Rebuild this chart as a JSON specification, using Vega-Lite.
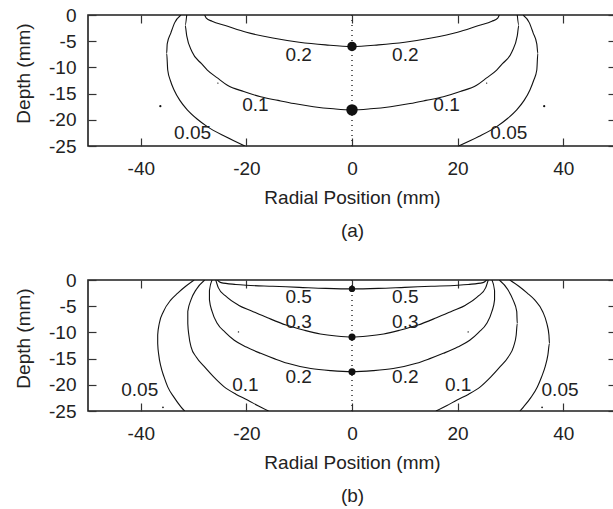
{
  "$schema": "https://vega.github.io/schema/vega-lite/v6.json",
  "autosize": {"type": "pad"},
  "padding": {"left": 13, "top": 5, "right": 0, "bottom": 0},
  "background": "white",
  "bounds": "flush",
  "spacing": 134,
  "config": {
    "font": "Liberation Sans",
    "view": {"stroke": "#1e1e1e", "strokeWidth": 1.6},
    "axis": {
      "domain": false,
      "grid": false,
      "tickSize": -8,
      "tickColor": "#333",
      "tickWidth": 1.2,
      "labelFont": "Liberation Sans",
      "labelFontSize": 19,
      "labelColor": "#222",
      "labelExpr": "replace(datum.label, '\u2212', '-')",
      "titleFont": "Liberation Sans",
      "titleFontSize": 19,
      "titleFontWeight": "normal",
      "titleColor": "#222"
    },
    "text": {"font": "Liberation Sans", "fontSize": 19, "color": "#222"}
  },
  "datasets": {
    "linesA": [
      {"c":"a02","i":0,"x":-27.9,"y":0},{"c":"a02","i":1,"x":-27.6,"y":-0.6},{"c":"a02","i":2,"x":-26.5,"y":-1.2},{"c":"a02","i":3,"x":-24,"y":-2.0},{"c":"a02","i":4,"x":-20,"y":-3.3},{"c":"a02","i":5,"x":-15,"y":-4.4},{"c":"a02","i":6,"x":-10,"y":-5.2},{"c":"a02","i":7,"x":-5,"y":-5.7},{"c":"a02","i":8,"x":0,"y":-6.0},{"c":"a02","i":9,"x":5,"y":-5.7},{"c":"a02","i":10,"x":10,"y":-5.2},{"c":"a02","i":11,"x":15,"y":-4.4},{"c":"a02","i":12,"x":20,"y":-3.3},{"c":"a02","i":13,"x":24,"y":-2.0},{"c":"a02","i":14,"x":26.5,"y":-1.2},{"c":"a02","i":15,"x":27.6,"y":-0.6},{"c":"a02","i":16,"x":27.9,"y":0},
      {"c":"a01","i":0,"x":-31.3,"y":0},{"c":"a01","i":1,"x":-31.6,"y":-2},{"c":"a01","i":2,"x":-31.3,"y":-4},{"c":"a01","i":3,"x":-30.3,"y":-7},{"c":"a01","i":4,"x":-28.5,"y":-9.3},{"c":"a01","i":5,"x":-27.4,"y":-10.5},{"c":"a01","i":6,"x":-25.5,"y":-12},{"c":"a01","i":7,"x":-23.6,"y":-13.4},{"c":"a01","i":8,"x":-20.5,"y":-14.6},{"c":"a01","i":9,"x":-17.3,"y":-15.6},{"c":"a01","i":10,"x":-14,"y":-16.3},{"c":"a01","i":11,"x":-11,"y":-16.9},{"c":"a01","i":12,"x":-7.3,"y":-17.5},{"c":"a01","i":13,"x":-3.5,"y":-17.9},{"c":"a01","i":14,"x":0,"y":-18.1},{"c":"a01","i":15,"x":3.5,"y":-17.9},{"c":"a01","i":16,"x":7.3,"y":-17.5},{"c":"a01","i":17,"x":11,"y":-16.9},{"c":"a01","i":18,"x":14,"y":-16.3},{"c":"a01","i":19,"x":17.3,"y":-15.6},{"c":"a01","i":20,"x":20.5,"y":-14.6},{"c":"a01","i":21,"x":23.6,"y":-13.4},{"c":"a01","i":22,"x":25.5,"y":-12},{"c":"a01","i":23,"x":27.4,"y":-10.5},{"c":"a01","i":24,"x":28.5,"y":-9.3},{"c":"a01","i":25,"x":30.3,"y":-7},{"c":"a01","i":26,"x":31.3,"y":-4},{"c":"a01","i":27,"x":31.6,"y":-2},{"c":"a01","i":28,"x":31.3,"y":0},
      {"c":"a005L","i":0,"x":-32.4,"y":0},{"c":"a005L","i":1,"x":-33.6,"y":-1.5},{"c":"a005L","i":2,"x":-34.3,"y":-3.4},{"c":"a005L","i":3,"x":-35.0,"y":-5.5},{"c":"a005L","i":4,"x":-35.1,"y":-7.3},{"c":"a005L","i":5,"x":-34.9,"y":-10.5},{"c":"a005L","i":6,"x":-34.4,"y":-12.5},{"c":"a005L","i":7,"x":-33.7,"y":-14.3},{"c":"a005L","i":8,"x":-32.6,"y":-16.3},{"c":"a005L","i":9,"x":-31.2,"y":-18.1},{"c":"a005L","i":10,"x":-29.4,"y":-19.8},{"c":"a005L","i":11,"x":-27.4,"y":-21.3},{"c":"a005L","i":12,"x":-24,"y":-23.2},{"c":"a005L","i":13,"x":-20.3,"y":-25},
      {"c":"a005R","i":0,"x":32.4,"y":0},{"c":"a005R","i":1,"x":33.6,"y":-1.5},{"c":"a005R","i":2,"x":34.3,"y":-3.4},{"c":"a005R","i":3,"x":35.0,"y":-5.5},{"c":"a005R","i":4,"x":35.2,"y":-7.3},{"c":"a005R","i":5,"x":35.0,"y":-10.5},{"c":"a005R","i":6,"x":34.4,"y":-12.5},{"c":"a005R","i":7,"x":33.7,"y":-14.3},{"c":"a005R","i":8,"x":32.6,"y":-16.3},{"c":"a005R","i":9,"x":31.2,"y":-18.1},{"c":"a005R","i":10,"x":29.4,"y":-19.8},{"c":"a005R","i":11,"x":27.4,"y":-21.3},{"c":"a005R","i":12,"x":24,"y":-23.2},{"c":"a005R","i":13,"x":20.2,"y":-25}
    ],
    "linesB": [
      {"c":"b05","i":0,"x":-25.5,"y":0},{"c":"b05","i":1,"x":-24.8,"y":-0.5},{"c":"b05","i":2,"x":-22,"y":-0.85},{"c":"b05","i":3,"x":-20,"y":-1.0},{"c":"b05","i":4,"x":-15,"y":-1.2},{"c":"b05","i":5,"x":-10,"y":-1.4},{"c":"b05","i":6,"x":-5,"y":-1.6},{"c":"b05","i":7,"x":0,"y":-1.7},{"c":"b05","i":8,"x":5,"y":-1.6},{"c":"b05","i":9,"x":10,"y":-1.4},{"c":"b05","i":10,"x":15,"y":-1.2},{"c":"b05","i":11,"x":20,"y":-1.0},{"c":"b05","i":12,"x":22,"y":-0.85},{"c":"b05","i":13,"x":24.8,"y":-0.5},{"c":"b05","i":14,"x":25.5,"y":0},
      {"c":"b03","i":0,"x":-25.8,"y":0},{"c":"b03","i":1,"x":-25.3,"y":-1.5},{"c":"b03","i":2,"x":-24,"y":-3},{"c":"b03","i":3,"x":-21.5,"y":-4.8},{"c":"b03","i":4,"x":-19,"y":-5.9},{"c":"b03","i":5,"x":-16,"y":-7.2},{"c":"b03","i":6,"x":-12.5,"y":-8.6},{"c":"b03","i":7,"x":-9,"y":-9.6},{"c":"b03","i":8,"x":-6,"y":-10.3},{"c":"b03","i":9,"x":-3,"y":-10.7},{"c":"b03","i":10,"x":0,"y":-10.9},{"c":"b03","i":11,"x":3,"y":-10.7},{"c":"b03","i":12,"x":6,"y":-10.3},{"c":"b03","i":13,"x":9,"y":-9.6},{"c":"b03","i":14,"x":12.5,"y":-8.6},{"c":"b03","i":15,"x":16,"y":-7.2},{"c":"b03","i":16,"x":19,"y":-5.9},{"c":"b03","i":17,"x":21.5,"y":-4.8},{"c":"b03","i":18,"x":24,"y":-3},{"c":"b03","i":19,"x":25.3,"y":-1.5},{"c":"b03","i":20,"x":25.8,"y":0},
      {"c":"b02","i":0,"x":-26.5,"y":0},{"c":"b02","i":1,"x":-27.0,"y":-2},{"c":"b02","i":2,"x":-27.0,"y":-3.8},{"c":"b02","i":3,"x":-26.5,"y":-6},{"c":"b02","i":4,"x":-25.5,"y":-8.3},{"c":"b02","i":5,"x":-24,"y":-10},{"c":"b02","i":6,"x":-22.3,"y":-11.5},{"c":"b02","i":7,"x":-20,"y":-12.8},{"c":"b02","i":8,"x":-17.3,"y":-14},{"c":"b02","i":9,"x":-14.5,"y":-15.1},{"c":"b02","i":10,"x":-12.2,"y":-15.9},{"c":"b02","i":11,"x":-7.8,"y":-16.9},{"c":"b02","i":12,"x":-4,"y":-17.3},{"c":"b02","i":13,"x":0,"y":-17.5},{"c":"b02","i":14,"x":4,"y":-17.3},{"c":"b02","i":15,"x":7.8,"y":-16.9},{"c":"b02","i":16,"x":12.2,"y":-15.9},{"c":"b02","i":17,"x":14.5,"y":-15.1},{"c":"b02","i":18,"x":17.3,"y":-14},{"c":"b02","i":19,"x":20,"y":-12.8},{"c":"b02","i":20,"x":22.3,"y":-11.5},{"c":"b02","i":21,"x":24,"y":-10},{"c":"b02","i":22,"x":25.5,"y":-8.3},{"c":"b02","i":23,"x":26.5,"y":-6},{"c":"b02","i":24,"x":27.0,"y":-3.8},{"c":"b02","i":25,"x":27.0,"y":-2},{"c":"b02","i":26,"x":26.5,"y":0},
      {"c":"b01L","i":0,"x":-27.9,"y":0},{"c":"b01L","i":1,"x":-29.5,"y":-1.8},{"c":"b01L","i":2,"x":-30.5,"y":-3.8},{"c":"b01L","i":3,"x":-31.1,"y":-6},{"c":"b01L","i":4,"x":-31.1,"y":-8.3},{"c":"b01L","i":5,"x":-30.9,"y":-10.5},{"c":"b01L","i":6,"x":-30.5,"y":-12.7},{"c":"b01L","i":7,"x":-29.5,"y":-14.7},{"c":"b01L","i":8,"x":-28.0,"y":-16.5},{"c":"b01L","i":9,"x":-26.2,"y":-18.5},{"c":"b01L","i":10,"x":-24.2,"y":-20.4},{"c":"b01L","i":11,"x":-22,"y":-21.8},{"c":"b01L","i":12,"x":-19.8,"y":-22.9},{"c":"b01L","i":13,"x":-17.8,"y":-24},{"c":"b01L","i":14,"x":-15.8,"y":-25},
      {"c":"b01R","i":0,"x":27.9,"y":0},{"c":"b01R","i":1,"x":29.5,"y":-1.8},{"c":"b01R","i":2,"x":30.5,"y":-3.8},{"c":"b01R","i":3,"x":31.2,"y":-6},{"c":"b01R","i":4,"x":31.3,"y":-8.3},{"c":"b01R","i":5,"x":31.1,"y":-10.5},{"c":"b01R","i":6,"x":30.6,"y":-12.7},{"c":"b01R","i":7,"x":29.6,"y":-14.7},{"c":"b01R","i":8,"x":28.1,"y":-16.5},{"c":"b01R","i":9,"x":26.3,"y":-18.5},{"c":"b01R","i":10,"x":24.3,"y":-20.4},{"c":"b01R","i":11,"x":22.1,"y":-21.8},{"c":"b01R","i":12,"x":19.9,"y":-22.9},{"c":"b01R","i":13,"x":17.9,"y":-24},{"c":"b01R","i":14,"x":15.9,"y":-25},
      {"c":"b005L","i":0,"x":-29.9,"y":0},{"c":"b005L","i":1,"x":-31.5,"y":-1.2},{"c":"b005L","i":2,"x":-33,"y":-2.5},{"c":"b005L","i":3,"x":-34.3,"y":-3.8},{"c":"b005L","i":4,"x":-35.7,"y":-6},{"c":"b005L","i":5,"x":-36.5,"y":-8.3},{"c":"b005L","i":6,"x":-36.8,"y":-10.5},{"c":"b005L","i":7,"x":-36.8,"y":-12.1},{"c":"b005L","i":8,"x":-36.6,"y":-14.3},{"c":"b005L","i":9,"x":-36.2,"y":-16.5},{"c":"b005L","i":10,"x":-35.6,"y":-18.5},{"c":"b005L","i":11,"x":-34.9,"y":-20.4},{"c":"b005L","i":12,"x":-33.7,"y":-22.4},{"c":"b005L","i":13,"x":-32.4,"y":-24.2},{"c":"b005L","i":14,"x":-31.7,"y":-25},
      {"c":"b005R","i":0,"x":29.9,"y":0},{"c":"b005R","i":1,"x":31.6,"y":-1.2},{"c":"b005R","i":2,"x":33.2,"y":-2.5},{"c":"b005R","i":3,"x":34.6,"y":-3.8},{"c":"b005R","i":4,"x":36.1,"y":-6},{"c":"b005R","i":5,"x":36.9,"y":-8.3},{"c":"b005R","i":6,"x":37.3,"y":-10.5},{"c":"b005R","i":7,"x":37.4,"y":-12.1},{"c":"b005R","i":8,"x":37.1,"y":-14.3},{"c":"b005R","i":9,"x":36.6,"y":-16.5},{"c":"b005R","i":10,"x":35.9,"y":-18.5},{"c":"b005R","i":11,"x":35.1,"y":-20.4},{"c":"b005R","i":12,"x":33.9,"y":-22.4},{"c":"b005R","i":13,"x":32.5,"y":-24.2},{"c":"b005R","i":14,"x":31.8,"y":-25}
    ],
    "labelsA": [
      {"x":-10.1,"y":-7.7,"t":"0.2"},{"x":10.1,"y":-7.7,"t":"0.2"},
      {"x":-18.3,"y":-17.2,"t":"0.1"},{"x":17.9,"y":-17.2,"t":"0.1"},
      {"x":-30.2,"y":-22.6,"t":"0.05"},{"x":29.7,"y":-22.6,"t":"0.05"}
    ],
    "labelsB": [
      {"x":-10.1,"y":-3.2,"t":"0.5"},{"x":10.1,"y":-3.2,"t":"0.5"},
      {"x":-10.1,"y":-8.1,"t":"0.3"},{"x":10.1,"y":-8.1,"t":"0.3"},
      {"x":-10.1,"y":-18.5,"t":"0.2"},{"x":10.1,"y":-18.5,"t":"0.2"},
      {"x":-20.2,"y":-20.1,"t":"0.1"},{"x":20.1,"y":-20.1,"t":"0.1"},
      {"x":-40.2,"y":-21.0,"t":"0.05"},{"x":39.4,"y":-21.0,"t":"0.05"}
    ],
    "blobsA": [
      {"x":0,"y":-6.0,"s":90},{"x":0,"y":-18.1,"s":130},
      {"x":-36.3,"y":-17.4,"s":5},{"x":36.4,"y":-17.4,"s":5},
      {"x":-25.4,"y":-13,"s":2},{"x":25.5,"y":-13,"s":2}
    ],
    "blobsB": [
      {"x":0,"y":-1.7,"s":40},{"x":0,"y":-10.9,"s":50},{"x":0,"y":-17.5,"s":50},
      {"x":-35.8,"y":-24.3,"s":3},{"x":36,"y":-24.3,"s":3},
      {"x":-21.5,"y":-9.9,"s":2},{"x":22,"y":-9.9,"s":2}
    ],
    "axisRule": [{"x":0,"y1":0,"y2":-25}]
  },
  "vconcat": [
    {
      "width": 528,
      "height": 131,
      "resolve": {"axis": {"x": "independent", "y": "independent"}},
      "layer": [
        {
          "data": {"name": "linesA"},
          "mark": {"type": "line", "stroke": "#111", "strokeWidth": 1.1, "clip": true, "interpolate": "monotone"},
          "encoding": {
            "x": {"field": "x", "type": "quantitative", "scale": {"domain": [-50, 50], "nice": false, "zero": false},
                  "axis": {"orient": "bottom", "values": [-40, -20, 0, 20, 40], "labelPadding": 21, "title": ["Radial Position (mm)", "(a)"], "titlePadding": 10, "titleLineHeight": 33}},
            "y": {"field": "y", "type": "quantitative", "scale": {"domain": [-25, 0], "nice": false, "zero": false},
                  "axis": {"orient": "left", "values": [0, -5, -10, -15, -20, -25], "labelPadding": 20, "title": "Depth (mm)", "titlePadding": 15, "titleY": 58}},
            "detail": {"field": "c"},
            "order": {"field": "i", "type": "quantitative"}
          }
        },
        {
          "data": {"name": "axisRule"},
          "mark": {"type": "rule", "stroke": "#222", "strokeWidth": 1.4, "strokeDash": [1, 4]},
          "encoding": {
            "x": {"field": "x", "type": "quantitative", "axis": {"orient": "top", "values": [-40, -20, 0, 20, 40], "labels": false, "title": null}},
            "y": {"field": "y1", "type": "quantitative", "axis": {"orient": "right", "values": [0, -5, -10, -15, -20, -25], "labels": false, "title": null}},
            "y2": {"field": "y2"}
          }
        },
        {
          "data": {"name": "blobsA"},
          "mark": {"type": "point", "shape": "circle", "filled": true, "color": "#111", "opacity": 1},
          "encoding": {
            "x": {"field": "x", "type": "quantitative", "axis": null},
            "y": {"field": "y", "type": "quantitative", "axis": null},
            "size": {"field": "s", "type": "quantitative", "scale": null, "legend": null}
          }
        },
        {
          "data": {"name": "labelsA"},
          "mark": {"type": "text", "align": "center", "baseline": "middle"},
          "encoding": {
            "x": {"field": "x", "type": "quantitative", "axis": null},
            "y": {"field": "y", "type": "quantitative", "axis": null},
            "text": {"field": "t"}
          }
        }
      ]
    },
    {
      "width": 528,
      "height": 131,
      "resolve": {"axis": {"x": "independent", "y": "independent"}},
      "layer": [
        {
          "data": {"name": "linesB"},
          "mark": {"type": "line", "stroke": "#111", "strokeWidth": 1.1, "clip": true, "interpolate": "monotone"},
          "encoding": {
            "x": {"field": "x", "type": "quantitative", "scale": {"domain": [-50, 50], "nice": false, "zero": false},
                  "axis": {"orient": "bottom", "values": [-40, -20, 0, 20, 40], "labelPadding": 21, "title": ["Radial Position (mm)", "(b)"], "titlePadding": 10, "titleLineHeight": 33}},
            "y": {"field": "y", "type": "quantitative", "scale": {"domain": [-25, 0], "nice": false, "zero": false},
                  "axis": {"orient": "left", "values": [0, -5, -10, -15, -20, -25], "labelPadding": 20, "title": "Depth (mm)", "titlePadding": 15, "titleY": 58}},
            "detail": {"field": "c"},
            "order": {"field": "i", "type": "quantitative"}
          }
        },
        {
          "data": {"name": "axisRule"},
          "mark": {"type": "rule", "stroke": "#222", "strokeWidth": 1.4, "strokeDash": [1, 4]},
          "encoding": {
            "x": {"field": "x", "type": "quantitative", "axis": {"orient": "top", "values": [-40, -20, 0, 20, 40], "labels": false, "title": null}},
            "y": {"field": "y1", "type": "quantitative", "axis": {"orient": "right", "values": [0, -5, -10, -15, -20, -25], "labels": false, "title": null}},
            "y2": {"field": "y2"}
          }
        },
        {
          "data": {"name": "blobsB"},
          "mark": {"type": "point", "shape": "circle", "filled": true, "color": "#111", "opacity": 1},
          "encoding": {
            "x": {"field": "x", "type": "quantitative", "axis": null},
            "y": {"field": "y", "type": "quantitative", "axis": null},
            "size": {"field": "s", "type": "quantitative", "scale": null, "legend": null}
          }
        },
        {
          "data": {"name": "labelsB"},
          "mark": {"type": "text", "align": "center", "baseline": "middle"},
          "encoding": {
            "x": {"field": "x", "type": "quantitative", "axis": null},
            "y": {"field": "y", "type": "quantitative", "axis": null},
            "text": {"field": "t"}
          }
        }
      ]
    }
  ]
}
